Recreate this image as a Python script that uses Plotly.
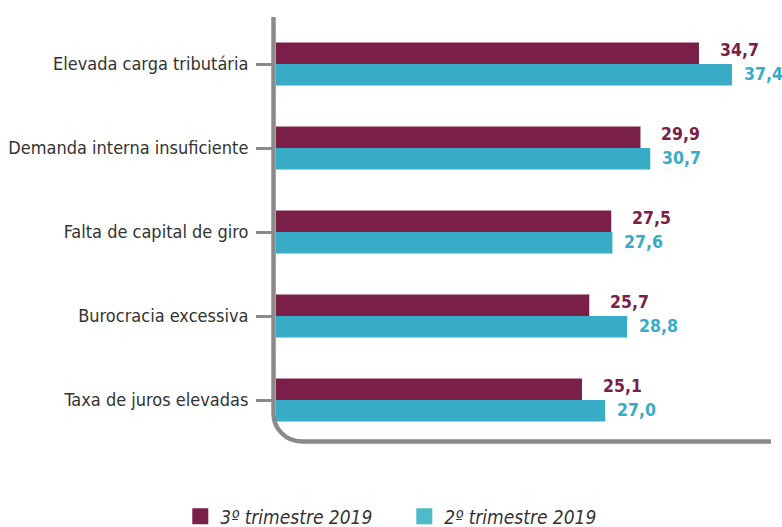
import plotly.graph_objects as go

categories = ["Taxa de juros elevadas", "Burocracia excessiva", "Falta de capital de giro",
              "Demanda interna insuficiente", "Elevada carga tributária"]
q3_2019 = [25.1, 25.7, 27.5, 29.9, 34.7]
q2_2019 = [27.0, 28.8, 27.6, 30.7, 37.4]
series_names = ["3º trimestre 2019", "2º trimestre 2019"]

MAROON = "#7A2048"
CYAN = "#38ACC6"
CYAN_LEG = "#4DBCC8"
GRAY = "#8A8A8A"
FONT = "DejaVu Sans Condensed, DejaVu Sans"

idx = list(range(len(categories)))

fig = go.Figure()
# first trace drawn lower within group
fig.add_trace(go.Bar(y=idx, x=q2_2019, orientation="h", marker=dict(color=CYAN, line=dict(width=0)),
                     showlegend=False, hoverinfo="x"))
fig.add_trace(go.Bar(y=idx, x=q3_2019, orientation="h", marker=dict(color=MAROON, line=dict(width=0)),
                     showlegend=False, hoverinfo="x"))

# legend proxies
fig.add_trace(go.Scatter(x=[None], y=[None], mode="markers", name=series_names[0],
                         marker=dict(symbol="square", size=20, color=MAROON), legendrank=1))
fig.add_trace(go.Scatter(x=[None], y=[None], mode="markers", name=series_names[1],
                         marker=dict(symbol="square", size=20, color=CYAN_LEG), legendrank=2))

for i, (a, b) in enumerate(zip(q3_2019, q2_2019)):
    fig.add_annotation(x=a, y=i, text=f"<b>{a:.1f}</b>".replace(".", ","), showarrow=False,
                       xanchor="left", yanchor="middle", xshift=19, yshift=14,
                       font=dict(family=FONT, size=17.5, color=MAROON))
    fig.add_annotation(x=b, y=i, text=f"<b>{b:.1f}</b>".replace(".", ","), showarrow=False,
                       xanchor="left", yanchor="middle", xshift=10, yshift=-10,
                       font=dict(family=FONT, size=17.5, color=CYAN))

# axis line with rounded corner (pixel geometry -> paper coords)
L, T, W, H = 276, 17, 494, 423
def px(x):
    return (x - L) / W
def py(y):
    return (T + H - y) / H
xv, yh, r = 273.5, 441.5, 28
k = 0.55 * r
path = (f"M {px(xv)},{py(17)} L {px(xv)},{py(yh - r)} "
        f"C {px(xv)},{py(yh - r + k)} {px(xv + r - k)},{py(yh)} {px(xv + r)},{py(yh)} "
        f"L {px(771)},{py(yh)}")
fig.add_shape(type="path", path=path, xref="paper", yref="paper",
              line=dict(color=GRAY, width=4.5), layer="above")

fig.update_layout(
    width=782, height=527,
    margin=dict(l=L, r=782 - L - W, t=T, b=527 - T - H, autoexpand=False),
    paper_bgcolor="white", plot_bgcolor="white",
    barmode="group", bargap=0.49, bargroupgap=0,
    font=dict(family=FONT, size=18, color="#333333"),
    xaxis=dict(range=[0, 494 / 12.19], showgrid=False, zeroline=False, showline=False,
               showticklabels=False, ticks="", automargin=False),
    yaxis=dict(range=[-0.476, 4.56], tickmode="array", tickvals=idx, ticktext=categories,
               showgrid=False, zeroline=False, showline=False, automargin=False,
               ticks="outside", ticklen=19, tickwidth=3, tickcolor=GRAY,
               ticklabelstandoff=4,
               tickfont=dict(family=FONT, size=18, color="#333333")),
    legend=dict(orientation="h", xref="container", yref="container",
                x=0.517, xanchor="center", y=0.02, yanchor="middle",
                font=dict(family=FONT, size=19, color="#333333", style="italic"),
                itemsizing="trace", entrywidth=179, bgcolor="rgba(0,0,0,0)"),
)

fig.write_html("out.html", config={"displayModeBar": False},
               post_script="document.body.style.margin='0';document.body.style.overflow='hidden';")
